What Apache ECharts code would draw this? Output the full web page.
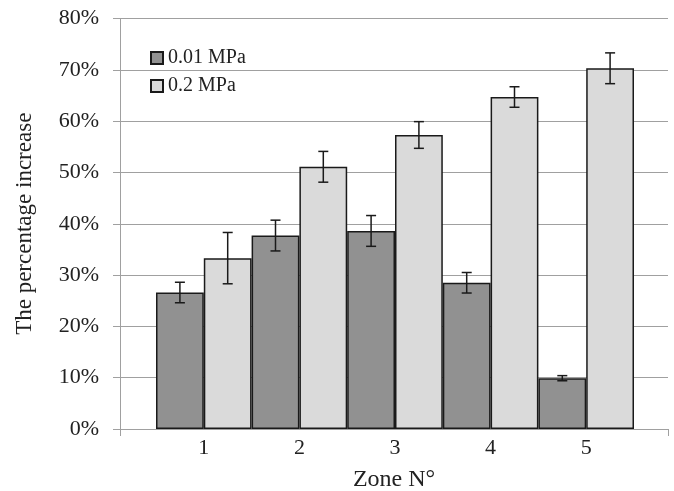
<!DOCTYPE html>
<html><head><meta charset="utf-8">
<script src="https://cdn.jsdelivr.net/npm/echarts@6/dist/echarts.min.js"></script>
<style>html,body{margin:0;padding:0;background:#fff}#c{width:674px;height:491px}</style>
</head><body><div id="c"></div>
<script>
const zones = ['1','2','3','4','5'];
const low = [26.6, 37.7, 38.6, 28.5, 9.9];
const lowErr = [2.0, 3.0, 3.0, 2.0, 0.5];
const high = [33.3, 51.1, 57.3, 64.7, 70.3];
const highErr = [5.0, 3.0, 2.6, 2.0, 3.0];
const yTicks = [0, 10, 20, 30, 40, 50, 60, 70, 80];

const font = 'Liberation Serif, Times New Roman, serif';
const chart = echarts.init(document.getElementById('c'));

function errSeries(vals, errs, side) {
  return {
    type: 'custom', xAxisIndex: 1, yAxisIndex: 1, z: 10, silent: true,
    data: vals.map((v, i) => [i, v, errs[i]]),
    renderItem: function (params, api) {
      const i = api.value(0), v = api.value(1), e = api.value(2);
      const band = api.size([1, 0])[0];
      const c = api.coord([i, v]);
      const x = c[0] + side * band / 4;
      const yt = api.coord([i, v + e])[1];
      const yb = api.coord([i, v - e])[1];
      const w = 5;
      const st = { stroke: '#1a1a1a', lineWidth: 1.5 };
      return { type: 'group', children: [
        { type: 'line', shape: { x1: x, y1: yt, x2: x, y2: yb }, style: st },
        { type: 'line', shape: { x1: x - w, y1: yt, x2: x + w, y2: yt }, style: st },
        { type: 'line', shape: { x1: x - w, y1: yb, x2: x + w, y2: yb }, style: st }
      ]};
    }
  };
}

chart.setOption({
  animation: false,
  textStyle: { fontFamily: font },
  legend: {
    orient: 'vertical', left: 150, top: 48, itemGap: 8, padding: 0,
    itemWidth: 12, itemHeight: 12, icon: 'rect',
    textStyle: { fontFamily: font, fontSize: 20, color: '#222' },
    data: ['0.01 MPa', '0.2 MPa']
  },
  grid: [
    { left: 120, right: 6, top: 18.5, bottom: 62, outerBoundsMode: 'none', containLabel: false },
    { left: 156, right: 40, top: 18.5, bottom: 62, outerBoundsMode: 'none', containLabel: false }
  ],
  xAxis: [
    { gridIndex: 0, type: 'value', min: 0, max: 1, interval: 1,
      axisLine: { show: true, lineStyle: { color: '#a0a0a0', width: 1 } },
      axisTick: { show: true, length: 7, lineStyle: { color: '#a0a0a0' } },
      axisLabel: { show: false }, splitLine: { show: false },
      name: 'Zone N°', nameLocation: 'middle', nameGap: 39,
      nameTextStyle: { fontFamily: font, fontSize: 24, color: '#222' } },
    { gridIndex: 1, type: 'category', data: zones,
      axisLine: { show: false }, axisTick: { show: false },
      axisLabel: { fontFamily: font, fontSize: 22, color: '#222', margin: 8 } }
  ],
  yAxis: [
    { gridIndex: 0, type: 'value', min: 0, max: 80, interval: 10,
      axisLine: { show: true, lineStyle: { color: '#a0a0a0', width: 1 } },
      axisTick: { show: true, length: 7, lineStyle: { color: '#a0a0a0' } },
      axisLabel: { fontFamily: font, fontSize: 22, color: '#222', margin: 21,
        formatter: v => yTicks.includes(v) ? v + '%' : '' },
      splitLine: { show: true, lineStyle: { color: '#a0a0a0', width: 1 } },
      name: 'The percentage increase', nameLocation: 'middle', nameGap: 84,
      nameTextStyle: { fontFamily: font, fontSize: 23, color: '#222' } },
    { gridIndex: 1, type: 'value', min: 0, max: 80, show: false }
  ],
  series: [
    { name: '0.01 MPa', type: 'bar', xAxisIndex: 1, yAxisIndex: 1, data: low,
      barGap: '0%', barCategoryGap: '0%',
      itemStyle: { color: '#919191', borderColor: '#1a1a1a', borderWidth: 1.5 } },
    { name: '0.2 MPa', type: 'bar', xAxisIndex: 1, yAxisIndex: 1, data: high,
      barGap: '0%', barCategoryGap: '0%',
      itemStyle: { color: '#dadada', borderColor: '#1a1a1a', borderWidth: 1.5 } },
    errSeries(low, lowErr, -1),
    errSeries(high, highErr, 1)
  ]
});
</script></body></html>
